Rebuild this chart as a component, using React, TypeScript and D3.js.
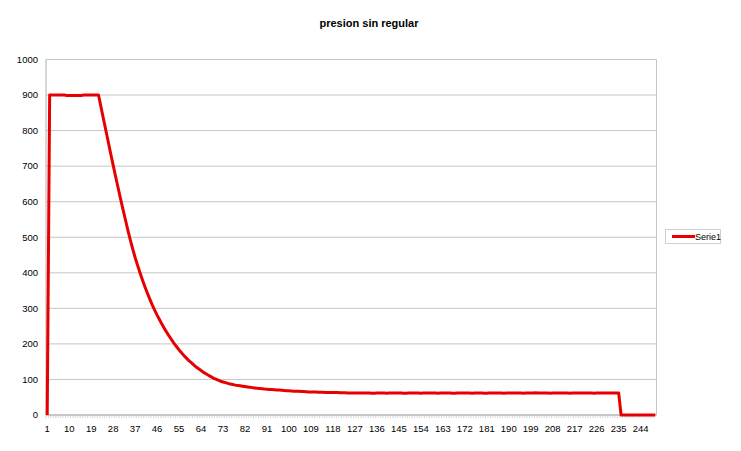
import React from "react";
import * as d3 from "d3";

const title = "presion sin regular";
const seriesName = "Serie1";
const categories: number[] = d3.range(1, 251);
const yTicks = [0, 100, 200, 300, 400, 500, 600, 700, 800, 900, 1000];
const xTickLabels = categories.filter((c) => (c - 1) % 9 === 0);

const values: number[] = [
  0,
  900, 900, 900, 900, 900, 900, 900, 899, 899, 899, 899, 899, 899, 899, 900, 900, 900, 900, 900, 900, 900,
  867, 834, 801, 768, 735, 703, 671, 640, 609, 579, 550, 521, 493, 467, 443, 421, 400, 380, 361, 343, 326, 310, 295, 281,
  268, 255, 243, 232, 221, 211, 201, 192, 183, 175, 167, 160, 153, 147, 141, 135, 130, 125, 120, 116, 112, 108, 104, 101,
  98, 95, 93, 91, 89, 87, 86, 84, 83, 82, 81, 80, 79, 78, 77, 76, 75,
  74.5, 74, 73, 72.5, 72, 71.5, 71, 70.5, 70, 69.5, 69, 68.5, 68, 67.5, 67, 67, 66.5, 66, 66, 65.5, 65, 65, 64.5,
  64.5, 64, 64, 64, 63.5, 63.5, 63, 63, 63, 63, 62.5, 62.5, 62.5, 62, 62, 62, 62, 62, 62, 62,
  62, 62, 62, 61.5, 61.5, 62, 62, 62, 62, 61.5, 62, 62, 62, 62, 62,
  62, 61.5, 61.5, 62, 62, 62, 62, 62, 61.5, 62, 62, 62, 62, 62, 62,
  61.5, 62, 62, 62, 62, 62, 61.5, 61.5, 62, 62, 62, 62, 62, 62, 61.5,
  62, 62, 62, 62, 61.5, 61.5, 62, 62, 62, 62, 62, 62, 61.5, 62, 62,
  62, 62, 62, 62, 62, 61.5, 62, 62, 62, 62, 62.5, 62, 62, 62, 62,
  62, 61.5, 62, 62, 62, 62, 62, 62, 62, 61.5, 62, 62, 62, 62, 62,
  62, 62, 62, 62, 61.5, 62, 62, 62, 62, 62, 62, 62, 62, 62, 62,
  0, 0, 0, 0, 0, 0, 0, 0, 0, 0, 0, 0, 0, 0, 0,
];

const W = 741;
const H = 451;
const left = 46;
const right = 656.5;
const top = 59.5;
const bottom = 415;
const font = "'Liberation Sans', Arial, Helvetica, sans-serif";
const grid = "#c6c6c6";
const red = "#e80000";

export default function App() {
  const x = d3.scalePoint<number>().domain(categories).range([left, right]).padding(0.5);
  const y = d3.scaleLinear().domain([0, 1000]).range([bottom, top]);
  const line = d3
    .line<number>()
    .x((_, i) => x(categories[i]) as number)
    .y((d) => y(d));
  const step = (right - left) / categories.length;

  return (
    <svg width={W} height={H} style={{ position: "absolute", left: 0, top: 0 }} fontFamily={font}>
      <rect x={0} y={0} width={W} height={H} fill="#fff" />
      <text x={369} y={27} textAnchor="middle" fontSize={11} fontWeight="bold" fill="#000">
        {title}
      </text>
      {yTicks.map((t) => (
        <g key={t}>
          <line x1={left} x2={right} y1={y(t)} y2={y(t)} stroke={grid} strokeWidth={1} />
          <text x={38} y={y(t)} dy="0.35em" textAnchor="end" fontSize={9.5} fill="#000">
            {t}
          </text>
        </g>
      ))}
      <line x1={right} x2={right} y1={top} y2={bottom} stroke={grid} strokeWidth={1} />
      <line x1={left} x2={left} y1={top} y2={bottom} stroke="#b0b0b0" strokeWidth={1} />
      <line x1={left} x2={right} y1={bottom} y2={bottom} stroke="#b0b0b0" strokeWidth={1} />
      {categories.map((c, i) => (
        <line
          key={c}
          x1={left + i * step}
          x2={left + i * step}
          y1={bottom}
          y2={bottom + 3}
          stroke="#c0c0c0"
          strokeWidth={0.6}
        />
      ))}
      {xTickLabels.map((c) => (
        <text key={c} x={x(c)} y={432} textAnchor="middle" fontSize={9.5} fill="#000">
          {c}
        </text>
      ))}
      <path d={line(values) || ""} fill="none" stroke={red} strokeWidth={3} strokeLinejoin="round" />
      <rect x={665.5} y={229.5} width={55} height={14} fill="#fff" stroke="#d0d0d0" strokeWidth={1} />
      <line x1={672} x2={695} y1={236.5} y2={236.5} stroke={red} strokeWidth={3} />
      <text x={695} y={236.5} dy="0.35em" fontSize={9} fill="#000">
        {seriesName}
      </text>
    </svg>
  );
}
